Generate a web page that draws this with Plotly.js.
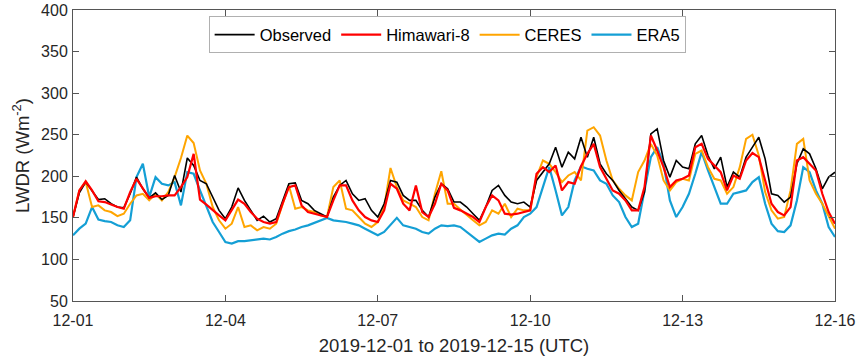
<!DOCTYPE html>
<html>
<head>
<meta charset="utf-8">
<script src="https://cdn.plot.ly/plotly-3.0.1.min.js"></script>
<style>html,body{margin:0;padding:0;background:#fff;}#chart{width:868px;height:364px;}</style>
</head>
<body>
<div id="chart"></div>
<script>
// 3-hourly samples starting 2019-12-01 00:00 UTC (121 points per series)
const startTime = '2019-12-01 00:00';
const stepHours = 3;

const observed = [
  151,180,193,183,172,173,167,163,
  162,179,199,185,174,180,172,177,
  201,181,222,213,195,191,175,159,
  149,163,186,171,159,147,152,145,
  149,171,191,192,171,167,159,155,
  151,175,189,195,179,171,173,159,
  151,167,195,193,177,171,171,159,
  151,175,191,185,169,169,163,155,
  147,163,183,189,177,169,167,169,
  163,195,205,215,235,211,229,221,
  247,223,247,215,203,195,183,173,
  163,159,181,251,257,219,199,219,
  211,209,239,249,225,209,223,187,
  205,199,223,235,247,221,179,177,
  169,175,215,233,227,209,185,199,
  205
];
const himawari = [
  151,183,194,183,170,169,166,163,
  161,181,197,185,174,176,176,177,
  177,187,199,227,172,166,159,153,
  147,159,172,167,157,149,145,143,
  145,167,187,189,165,157,155,153,
  151,171,189,189,171,159,151,147,
  145,159,191,185,167,159,189,157,
  151,167,191,183,162,159,155,151,
  145,163,177,171,155,154,155,157,
  159,203,211,205,213,183,193,191,
  212,227,239,211,197,183,179,171,
  159,159,187,249,231,211,187,195,
  197,201,235,239,221,213,205,183,
  201,197,219,228,223,195,167,157,
  153,163,219,223,215,207,179,157,
  143
];
const ceres = [
  151,183,193,163,165,159,157,152,
  155,167,177,179,171,179,171,181,
  199,222,249,240,207,191,163,147,
  137,143,163,139,141,135,139,137,
  143,165,189,161,163,159,157,153,
  151,187,195,161,159,151,143,139,
  145,163,210,187,171,167,163,151,
  147,179,206,167,167,160,153,147,
  141,145,159,155,167,151,161,159,
  159,199,219,215,205,193,201,205,
  195,255,259,249,219,195,185,177,
  171,205,219,239,225,195,183,193,
  197,195,227,231,211,197,195,179,
  187,211,245,250,225,181,159,149,
  151,183,239,245,195,179,167,151,
  137
];
const era5 = [
  129,137,143,163,148,146,145,141,
  139,147,199,215,175,199,191,189,
  193,165,205,203,183,163,145,133,
  121,119,122,122,123,124,125,124,
  127,131,134,136,139,141,144,147,
  150,147,146,145,143,141,137,133,
  129,133,141,150,141,139,137,133,
  131,137,141,140,141,139,133,127,
  121,125,129,131,130,137,141,151,
  155,163,187,211,183,153,163,195,
  212,209,207,195,191,177,169,151,
  139,143,183,223,235,215,171,151,
  163,179,203,229,207,187,167,167,
  179,181,183,193,199,167,143,134,
  133,141,171,211,205,183,167,139,
  127
];

const xTickVals = ['2019-12-01','2019-12-04','2019-12-07','2019-12-10','2019-12-13','2019-12-16'];
const xTickText = ['12-01','12-04','12-07','12-10','12-13','12-16'];
const yTickVals = [50,100,150,200,250,300,350,400];

const FONT = '"Liberation Sans", Arial, Helvetica, sans-serif';
const TXT = '#262626';
const AX = '#555555';
const dxMs = stepHours * 3600 * 1000;

function tr(name, y, color, width, rank) {
  return {
    type: 'scatter', mode: 'lines', name: name, y: y,
    x0: startTime, dx: dxMs,
    line: {color: color, width: width},
    legendrank: rank, hoverinfo: 'skip'
  };
}

const data = [
  tr('ERA5', era5, '#149fd5', 2.2, 4),
  tr('CERES', ceres, '#ffa500', 2.0, 3),
  tr('Observed', observed, '#000000', 1.6, 1),
  tr('Himawari-8', himawari, '#ff0000', 2.2, 2)
];

const axisCommon = {
  showline: true, linecolor: AX, linewidth: 1, mirror: 'ticks',
  ticks: 'inside', ticklen: 6, tickcolor: AX, tickwidth: 1,
  showgrid: false, zeroline: false,
  tickfont: {family: FONT, size: 16, color: TXT}
};

const layout = {
  width: 868, height: 364,
  margin: {l: 73, r: 33, t: 10, b: 63, pad: 0},
  paper_bgcolor: '#ffffff', plot_bgcolor: '#ffffff',
  font: {family: FONT, color: TXT},
  showlegend: true,
  legend: {
    orientation: 'h', x: 0.178, y: 0.978, xanchor: 'left', yanchor: 'top',
    bgcolor: '#ffffff', bordercolor: '#b0b0b0', borderwidth: 1,
    font: {family: FONT, size: 16.5, color: '#000000'},
    itemwidth: 40, traceorder: 'normal'
  },
  xaxis: Object.assign({}, axisCommon, {
    type: 'date', range: ['2019-12-01', '2019-12-16'],
    tickmode: 'array', tickvals: xTickVals, ticktext: xTickText,
    ticklabelstandoff: 5,
    title: {text: '2019-12-01 to 2019-12-15 (UTC)', font: {family: FONT, size: 18.5, color: TXT}, standoff: 10}
  }),
  yaxis: Object.assign({}, axisCommon, {
    range: [50, 400], tickmode: 'array', tickvals: yTickVals,
    ticklabelstandoff: 1,
    title: {text: 'LWDR (Wm<sup>-2</sup>)', font: {family: FONT, size: 18.5, color: TXT}, standoff: 6}
  })
};

Plotly.newPlot('chart', data, layout, {staticPlot: true, displayModeBar: false});
</script>
</body>
</html>
